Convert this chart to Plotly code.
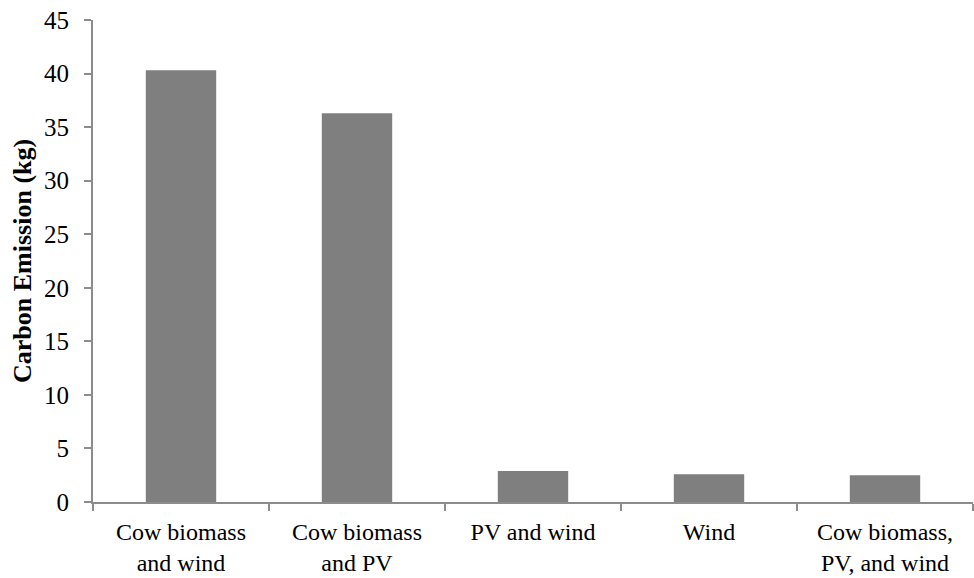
import plotly.graph_objects as go

categories = ["Cow biomass<br>and wind", "Cow biomass<br>and PV", "PV and wind", "Wind", "Cow biomass,<br>PV, and wind"]
values = [40.3, 36.3, 2.9, 2.6, 2.5]
y_title = "Carbon Emission (kg)"

fig = go.Figure(go.Bar(x=categories, y=values, marker=dict(color="#7f7f7f", line=dict(width=0)), width=0.4))

axis_color = "#8c8c8c"
L, R, T, B = 93, 1, 20, 76
W, H = 974, 578
fig.update_layout(
    width=W, height=H,
    margin=dict(l=L, r=R, t=T, b=B, autoexpand=False),
    paper_bgcolor="white", plot_bgcolor="white",
    font=dict(family="Liberation Serif, Times New Roman, serif", color="black", size=24),
    showlegend=False,
    bargap=0.6,
)
fig.update_xaxes(
    showline=True, linecolor=axis_color, linewidth=2, automargin=False,
    ticks="outside", tickson="boundaries", ticklen=7, tickwidth=2, tickcolor=axis_color,
    showgrid=False, tickfont=dict(size=24), ticklabelstandoff=7,
)
fig.update_yaxes(
    range=[0, 45], dtick=5, showline=True, linecolor=axis_color, linewidth=2, automargin=False,
    ticks="outside", ticklen=7, tickwidth=2, tickcolor=axis_color,
    showgrid=False, zeroline=False, tickfont=dict(size=25), ticklabelstandoff=10,
)
fig.add_annotation(
    text="<b>" + y_title + "</b>", textangle=-90, showarrow=False,
    xref="paper", yref="paper", x=-(L - 22) / (W - L - R), y=0.5,
    xanchor="center", yanchor="middle", font=dict(size=26),
)
fig.write_html(
    "out.html",
    config={"displayModeBar": False},
    post_script="document.body.style.margin='0';document.body.style.overflow='hidden';",
)
